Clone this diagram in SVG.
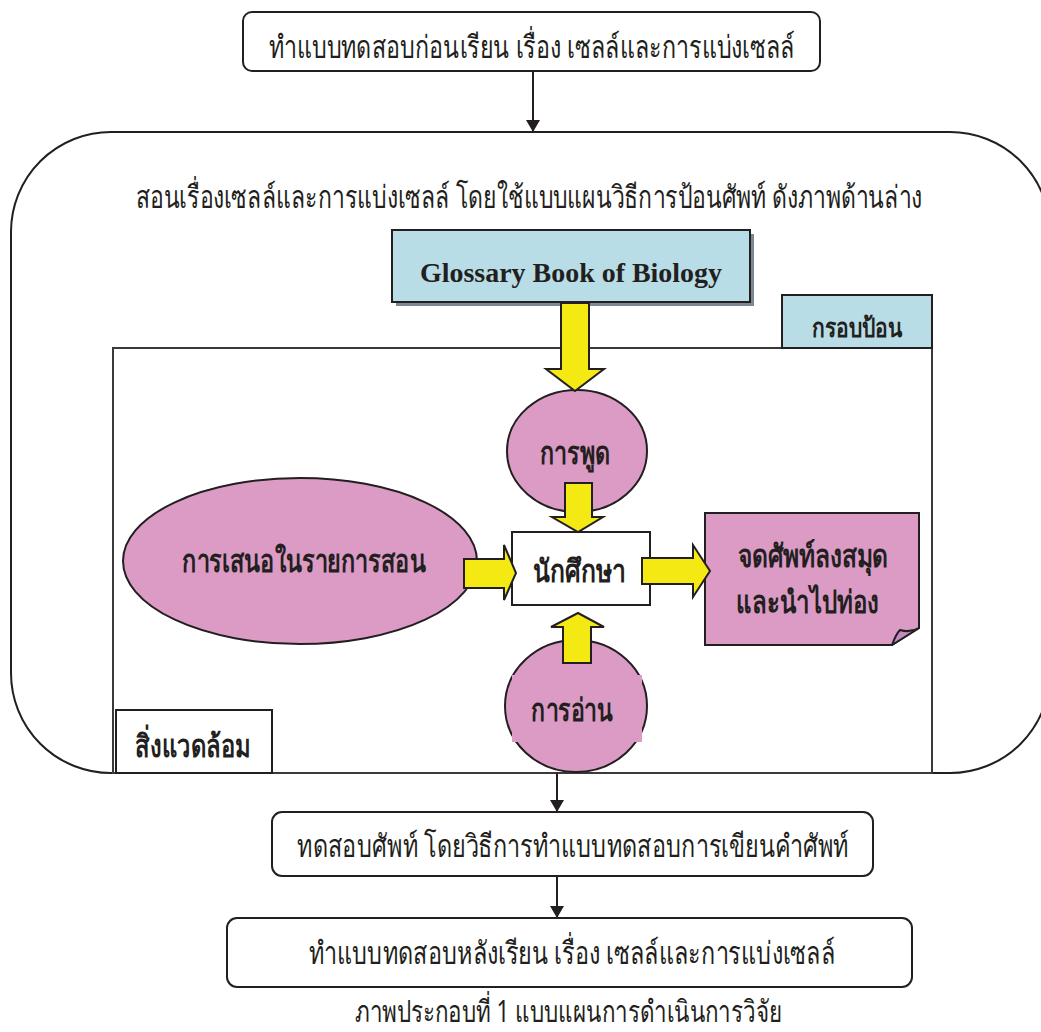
<svg xmlns="http://www.w3.org/2000/svg" width="1041" height="1032" viewBox="0 0 1041 1032">
<style>
.t{font-family:"Noto Sans","DejaVu Sans",sans-serif;fill:#231f20;text-anchor:middle;dominant-baseline:central;font-size:24px}
.b{font-weight:bold}
.box{fill:#fff;stroke:#231f20;stroke-width:2}
.pink{fill:#db9bc5;stroke:#231f20;stroke-width:2}
.blue{fill:#b8dde6;stroke:#231f20;stroke-width:2}
.ya{fill:#f5e914;stroke:#231f20;stroke-width:2;stroke-linejoin:miter}
.line{stroke:#231f20;stroke-width:2;fill:none}
</style>
<defs>
<marker id="ah" viewBox="0 0 12 14" refX="12" refY="7" markerWidth="12" markerHeight="14" markerUnits="userSpaceOnUse" orient="auto">
<path d="M0,0 L12,7 L0,14 Z" fill="#231f20"/>
</marker>
</defs>
<rect width="1041" height="1032" fill="#fff"/>

<g id="container">
<rect x="11" y="132" width="1039" height="641" rx="100" ry="100" class="line" fill="#fff"/>
<text class="t" transform="translate(529,196) scale(0.958,1.3)">สอนเรื่องเซลล์และการแบ่งเซลล์ โดยใช้แบบแผนวิธีการป้อนศัพท์ ดังภาพด้านล่าง</text>
</g>

<g id="frame">
<rect x="113" y="348" width="819" height="425" fill="#fff" stroke="#3a3a3a" stroke-width="2"/>
</g>

<g id="pretest">
<rect x="243" y="12" width="577" height="59" rx="9" class="box"/>
<text class="t" transform="translate(532,46) scale(0.97,1.3)">ทำแบบทดสอบก่อนเรียน เรื่อง เซลล์และการแบ่งเซลล์</text>
</g>

<g id="glossary">
<rect x="396" y="234" width="358" height="72" fill="#7d8891"/>
<rect x="392" y="230" width="358" height="72" class="blue"/>
<text class="t b" x="571" y="273" style="font-family:'Liberation Serif',serif;font-size:27px" textLength="302" lengthAdjust="spacingAndGlyphs">Glossary Book of Biology</text>
</g>

<g id="input-frame-label">
<rect x="782" y="295" width="150" height="53" class="blue"/>
<text class="t b" style="font-size:20px" transform="translate(857,327) scale(1.05,1.3)">กรอบป้อน</text>
</g>

<g id="environment-label">
<rect x="116" y="710" width="156" height="63" class="box"/>
<text class="t b" transform="translate(193,745) scale(0.99,1.3)">สิ่งแวดล้อม</text>
</g>

<g id="speaking">
<ellipse cx="577" cy="451" rx="70" ry="61" class="pink"/>
<text class="t b" transform="translate(575,452) scale(0.97,1.3)">การพูด</text>
</g>

<g id="presentation">
<ellipse cx="300" cy="561" rx="177" ry="83" class="pink"/>
<text class="t b" transform="translate(304,560) scale(0.976,1.3)">การเสนอในรายการสอน</text>
</g>

<g id="student">
<rect x="512" y="532" width="138" height="73" class="box"/>
<text class="t b" transform="translate(580,570) scale(1.03,1.3)">นักศึกษา</text>
</g>

<g id="notes">
<path d="M705,513 L919,513 L919,628 L892,645 L705,645 Z" class="pink"/>
<path d="M892,645 Q896,634 900,630 Q910,633 919,628 Z" fill="#c58ac0" stroke="#231f20" stroke-width="2" stroke-linejoin="round"/>
<text class="t b" transform="translate(813,555) scale(1.02,1.3)">จดศัพท์ลงสมุด</text>
<text class="t b" transform="translate(808,601) scale(1.0,1.3)">และนำไปท่อง</text>
</g>

<g id="reading">
<ellipse cx="576" cy="706" rx="71" ry="66" class="pink"/>
<rect x="512" y="675" width="130" height="67" fill="#db9bc5"/>
<text class="t b" transform="translate(572,709) scale(0.96,1.3)">การอ่าน</text>
</g>

<g id="vocab-test">
<rect x="272" y="812" width="601" height="64" rx="10" class="box"/>
<text class="t" transform="translate(573,845) scale(0.977,1.3)">ทดสอบศัพท์ โดยวิธีการทำแบบทดสอบการเขียนคำศัพท์</text>
</g>

<g id="posttest">
<rect x="227" y="918" width="685" height="69" rx="10" class="box"/>
<text class="t" transform="translate(572,952) scale(0.976,1.3)">ทำแบบทดสอบหลังเรียน เรื่อง เซลล์และการแบ่งเซลล์</text>
</g>

<g id="caption">
<text class="t" transform="translate(569,1011) scale(0.934,1.25)">ภาพประกอบที่ 1 แบบแผนการดำเนินการวิจัย</text>
</g>

<g id="connectors">
<line x1="533" y1="71" x2="533" y2="132" class="line" marker-end="url(#ah)"/>
<line x1="557" y1="773" x2="557" y2="812" class="line" marker-end="url(#ah)"/>
<line x1="557" y1="876" x2="557" y2="918" class="line" marker-end="url(#ah)"/>
<path class="ya" d="M561,303 L589,303 L589,369 L604,369 L575,391 L546,369 L561,369 Z"/>
<path class="ya" d="M565,483 L592,483 L592,517 L603,517 L578,532 L552,517 L565,517 Z"/>
<path class="ya" d="M563,663 L591,663 L591,627 L604,627 L578,613 L551,627 L563,627 Z"/>
<path class="ya" d="M464,559 L504,559 L504,545 L516,573 L504,600 L504,588 L464,588 Z"/>
<path class="ya" d="M642,558 L693,558 L693,545 L710,571 L693,597 L693,584 L642,584 Z"/>
</g>
</svg>
